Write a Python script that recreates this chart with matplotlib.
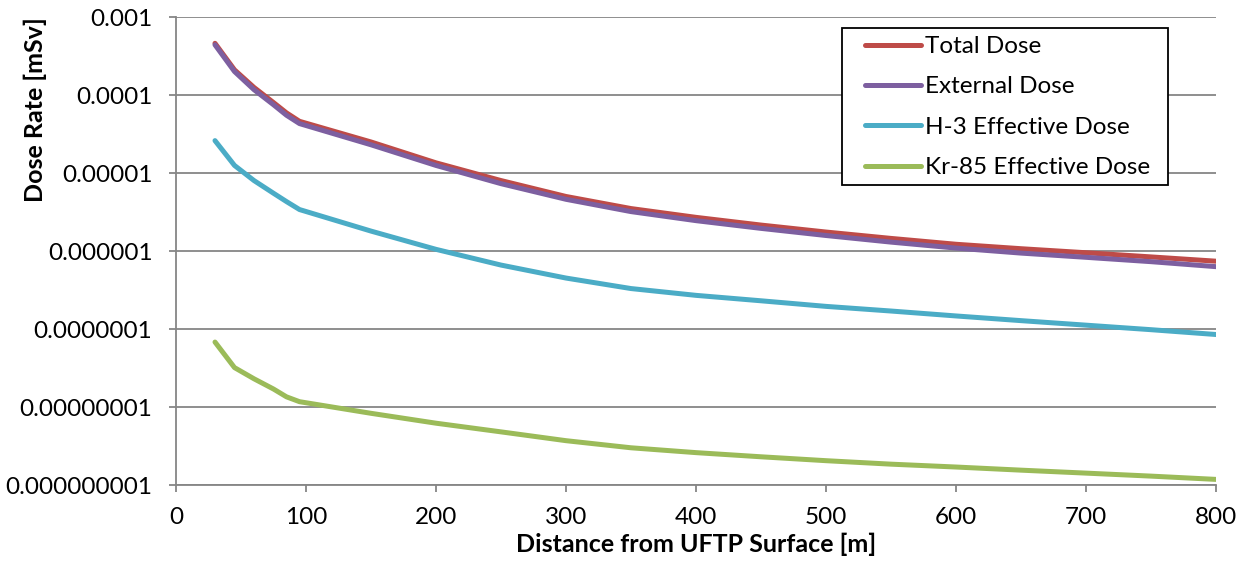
import matplotlib
matplotlib.use("Agg")
import matplotlib.pyplot as plt
from matplotlib.patches import Rectangle
from matplotlib.ticker import FixedLocator, FuncFormatter, NullLocator

plt.rcParams['font.family'] = ['Lato', 'DejaVu Sans']

distance = [30, 45, 60, 75, 85, 95, 150, 200, 250, 300, 350, 400,
            450, 500, 550, 600, 650, 700, 750, 800]

total_dose = [4.6e-4, 2.1e-4, 1.25e-4, 8.0e-5, 5.9e-5, 4.6e-5, 2.5e-5, 1.35e-5,
              8.0e-6, 5.0e-6, 3.5e-6, 2.7e-6, 2.15e-6, 1.75e-6, 1.45e-6,
              1.22e-6, 1.07e-6, 9.5e-7, 8.4e-7, 7.4e-7]
external_dose = [4.4e-4, 2.0e-4, 1.17e-4, 7.5e-5, 5.5e-5, 4.3e-5, 2.3e-5, 1.25e-5,
                 7.3e-6, 4.6e-6, 3.2e-6, 2.45e-6, 1.95e-6, 1.58e-6, 1.3e-6,
                 1.09e-6, 9.4e-7, 8.3e-7, 7.3e-7, 6.3e-7]
h3_dose = [2.6e-5, 1.25e-5, 8.0e-6, 5.5e-6, 4.3e-6, 3.4e-6, 1.8e-6, 1.05e-6,
           6.6e-7, 4.5e-7, 3.3e-7, 2.7e-7, 2.3e-7, 1.95e-7, 1.7e-7,
           1.47e-7, 1.28e-7, 1.12e-7, 9.8e-8, 8.5e-8]
kr85_dose = [6.8e-8, 3.2e-8, 2.3e-8, 1.7e-8, 1.35e-8, 1.17e-8, 8.3e-9, 6.2e-9,
             4.8e-9, 3.7e-9, 3.0e-9, 2.6e-9, 2.3e-9, 2.05e-9, 1.85e-9,
             1.7e-9, 1.55e-9, 1.42e-9, 1.3e-9, 1.18e-9]

series_names = ["Total Dose", "External Dose", "H-3 Effective Dose", "Kr-85 Effective Dose"]
y_ticks = [1e-9, 1e-8, 1e-7, 1e-6, 1e-5, 1e-4, 1e-3]
y_tick_labels = ["0.000000001", "0.00000001", "0.0000001", "0.000001",
                 "0.00001", "0.0001", "0.001"]
x_ticks = [0, 100, 200, 300, 400, 500, 600, 700, 800]

colors = ["#BE4B48", "#7D5FA0", "#4BACC6", "#9BBB59"]
grid_col = "#868686"

W, H = 1246, 562
fig = plt.figure(figsize=(W / 100, H / 100), dpi=100)
ax = fig.add_axes([176 / W, 1 - 485 / H, 1040 / W, 468 / H])

for vals, name, c in zip([total_dose, external_dose, h3_dose, kr85_dose], series_names, colors):
    ax.plot(distance, vals, color=c, lw=3.6, label=name,
            solid_capstyle='round', solid_joinstyle='round')

ax.set_yscale("log")
ax.set_ylim(1e-9, 1e-3)
ax.set_xlim(0, 800)
ax.yaxis.set_major_locator(FixedLocator(y_ticks))
ax.yaxis.set_minor_locator(NullLocator())
ax.yaxis.set_major_formatter(FuncFormatter(lambda v, p: y_tick_labels[y_ticks.index(min(y_ticks, key=lambda t: abs(t - v) / t))]))
ax.xaxis.set_major_locator(FixedLocator(x_ticks))

ax.grid(axis='y', color=grid_col, lw=1.3)
ax.set_axisbelow(True)
for s in ['top', 'right']:
    ax.spines[s].set_visible(False)
for s in ['left', 'bottom']:
    ax.spines[s].set_color(grid_col)
    ax.spines[s].set_linewidth(1.3)
ax.tick_params(axis='both', colors=grid_col, width=1.3, length=5, labelsize=17.5, labelcolor='black')
ax.tick_params(axis='x', pad=11)
ax.tick_params(axis='y', pad=12)

ax.set_xlabel("Distance from UFTP Surface [m]", fontsize=18, fontweight='bold', labelpad=3)
fig.text(35 / W, 1 - 110 / H, "Dose Rate [mSv]", fontsize=18, fontweight='bold',
         rotation=90, ha='center', va='center')

leg = ax.legend(loc='upper left', bbox_to_anchor=(865 / W, 1 - 36 / H), bbox_transform=fig.transFigure,
                fontsize=17.5, frameon=False, handlelength=2.3, handletextpad=0.15,
                labelspacing=0.8, borderpad=0.0, borderaxespad=0)
leg.set_zorder(6)

# box round the legend, wider at the sides than matplotlib pads it
fig.canvas.draw()
bb = leg.get_window_extent().transformed(fig.transFigure.inverted())
ax.add_patch(Rectangle((842 / W, bb.y0 - 7 / H), 326 / W, bb.height + 15 / H,
                       transform=fig.transFigure, facecolor='white',
                       edgecolor='black', lw=1.3, zorder=5, clip_on=False))

fig.savefig("out.png", dpi=100)
